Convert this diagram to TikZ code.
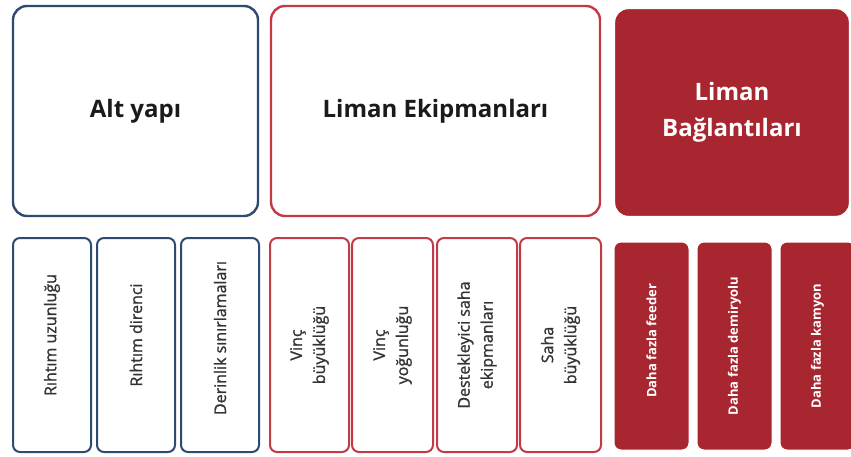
\documentclass[tikz,border=0pt]{standalone}
\usepackage{fontspec}
\setmainfont{Open Sans}
\newfontfamily\medfont[FakeBold=1.2]{Open Sans}
\definecolor{navy}{HTML}{2E4A70}
\definecolor{redline}{HTML}{C23A46}
\definecolor{redfill}{HTML}{A8262F}
\definecolor{txt}{HTML}{1A1A1A}
\definecolor{ltxt}{HTML}{333333}
\tikzset{
  bigbox/.style={rounded corners=14pt, line width=2.4pt, minimum width=#1, inner sep=0pt},
  navybox/.style={draw=navy, fill=white},
  redbox/.style={draw=redline, fill=white},
  filledbox/.style={draw=white, fill=redfill, text=white},
  smallbox/.style={rounded corners=7pt, line width=2pt, rotate=90, inner sep=0pt, align=center},
  title/.style={font=\bfseries\fontsize{24}{28}\selectfont, text=txt},
  vlabel/.style={font=\medfont\fontsize{16}{23}\selectfont, text=ltxt},
  wlabel/.style={font=\bfseries\fontsize{13}{15}\selectfont, text=white},
}
\begin{document}
\begin{tikzpicture}[x=1pt,y=-1pt]
\useasboundingbox (0,0) rectangle (851,457);
% top row
\node[bigbox=245pt, minimum height=210pt, navybox, title] (alt) at (135.5,111) {Alt yapı};
\node[bigbox=329pt, minimum height=210pt, redbox, title] (ekip) at (435.5,111) {Liman Ekipmanları};
\node[bigbox=236pt, minimum height=209pt, filledbox, title, text=white, align=center, font=\bfseries\fontsize{24}{36}\selectfont] (bag) at (732,112.5) {Liman\\Bağlantıları};
% bottom row: Alt yapı
\node[smallbox, navybox, vlabel, minimum width=214pt, minimum height=78pt] (r1) at (52,345) {\hspace*{20pt}Rıhtım uzunluğu};
\node[smallbox, navybox, vlabel, minimum width=214pt, minimum height=78pt] (r2) at (136,345) {\hspace*{20pt}Rıhtım direnci};
\node[smallbox, navybox, vlabel, minimum width=214pt, minimum height=78pt] (r3) at (220,345) {\hspace*{14pt}Derinlik sınırlamaları};
% bottom row: Liman Ekipmanları
\node[smallbox, redbox, vlabel, minimum width=214pt, minimum height=79pt] (e1) at (309.5,345) {Vinç\\büyüklüğü};
\node[smallbox, redbox, vlabel, minimum width=214pt, minimum height=81pt] (e2) at (392.5,345) {Vinç\\yoğunluğu};
\node[smallbox, redbox, vlabel, minimum width=214pt, minimum height=80pt] (e3) at (477,345) {Destekleyici saha\\ekipmanları};
\node[smallbox, redbox, vlabel, minimum width=214pt, minimum height=81pt] (e4) at (560.5,345) {Saha\\büyüklüğü};
% bottom row: Liman Bağlantıları
\node[smallbox, filledbox, wlabel, line width=1pt, minimum width=208pt, minimum height=75pt] (f1) at (651.5,346) {\hspace*{10pt}Daha fazla feeder};
\node[smallbox, filledbox, wlabel, line width=1pt, minimum width=208pt, minimum height=75pt] (f2) at (734.5,346) {Daha fazla demiryolu};
\node[smallbox, filledbox, wlabel, line width=1pt, minimum width=208pt, minimum height=75pt] (f3) at (817.5,346) {Daha fazla kamyon};
\end{tikzpicture}
\end{document}
